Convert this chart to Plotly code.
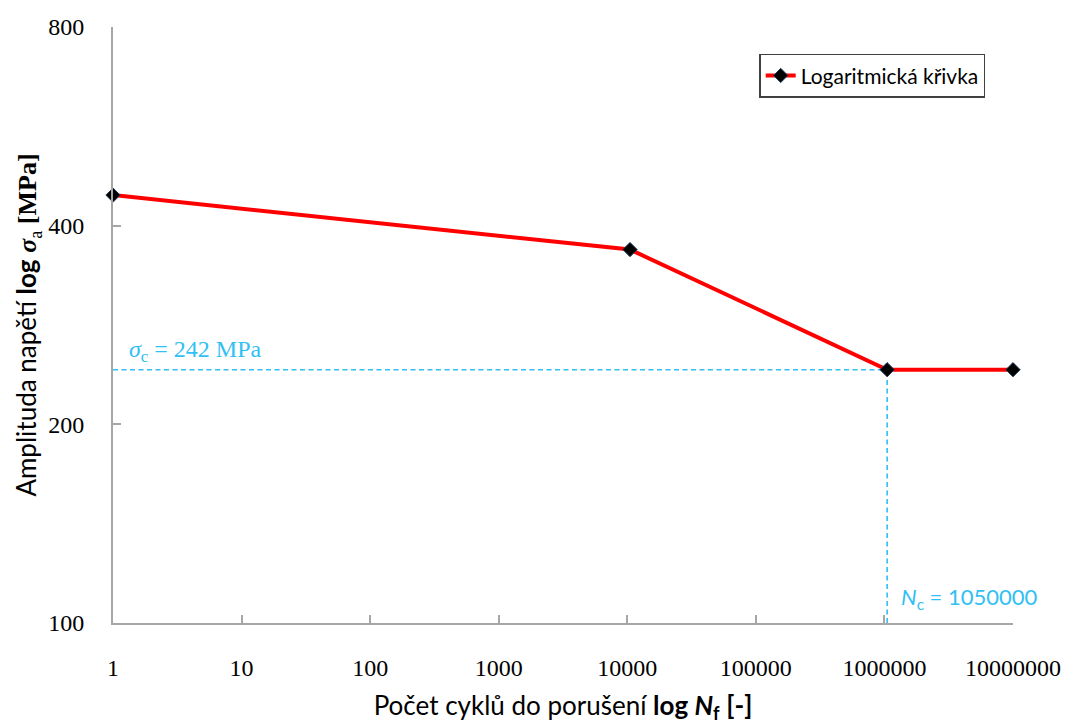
import math
import plotly.graph_objects as go

# S-N curve points (cycles to failure, stress amplitude in MPa)
cycles = [1, 10500, 1050000, 10000000]
stress = [445, 368, 242, 242]

# Fatigue limit and the knee-point cycle count
sigma_c = 242
n_c = 1050000

x_ticks = [1, 10, 100, 1000, 10000, 100000, 1000000, 10000000]
y_ticks = [100, 200, 400, 800]

SERIF = "Liberation Serif"
SANS = "Lato"
CYAN = "#30c0f4"
AXIS = "#a6a6a6"

fig = go.Figure()

# Guide lines for the fatigue limit
guide = dict(color=CYAN, width=1.6, dash="5px,3.5px")
fig.add_trace(go.Scatter(
    x=[cycles[0], n_c], y=[sigma_c, sigma_c], mode="lines",
    line=guide, showlegend=False, hoverinfo="skip"))
fig.add_trace(go.Scatter(
    x=[n_c, n_c], y=[y_ticks[0], sigma_c], mode="lines",
    line=guide, showlegend=False, hoverinfo="skip"))

fig.add_trace(go.Scatter(
    x=cycles, y=stress, mode="lines+markers", name="Logaritmická křivka",
    line=dict(color="#ff0000", width=4),
    marker=dict(symbol="diamond", size=11, color="#000000",
                line=dict(color="#1f3a5a", width=1)),
    cliponaxis=False))

# Annotation positions on log axes are given in log10 units
fig.add_annotation(
    x=0.11, y=math.log10(sigma_c), xref="x", yref="y",
    xanchor="left", yanchor="bottom", yshift=2,
    text="<i>σ</i><sub>c</sub> = 242 MPa", showarrow=False,
    font=dict(family=SERIF, size=24, color=CYAN))
fig.add_annotation(
    x=math.log10(n_c), y=math.log10(y_ticks[0]), xref="x", yref="y",
    xanchor="left", yanchor="bottom", xshift=12, yshift=8,
    text="<i>N</i><sub>c</sub> = 1050000", showarrow=False,
    font=dict(family=SANS, size=22, color=CYAN))

fig.update_layout(
    width=1068, height=724,
    margin=dict(l=113, r=55, t=27, b=101),
    paper_bgcolor="white", plot_bgcolor="white",
    legend=dict(
        x=0.718, y=0.955, xanchor="left", yanchor="top",
        bordercolor="#404040", borderwidth=1.5, bgcolor="white",
        font=dict(family=SANS, size=21, color="#000000"),
        itemwidth=30, tracegroupgap=0),
    xaxis=dict(
        type="log", range=[0, 7], automargin=False,
        tickvals=x_ticks, ticktext=[str(v) for v in x_ticks],
        ticks="inside", ticklen=8, tickcolor=AXIS, tickwidth=1.5,
        ticklabelstandoff=22,
        showline=True, linecolor=AXIS, linewidth=2, showgrid=False, zeroline=False,
        tickfont=dict(family=SERIF, size=24, color="#000000"),
        title=dict(
            text="Počet cyklů do porušení <b>log <i>N</i></b><b><sub>f</sub></b> <b>[-]</b>",
            font=dict(family=SANS, size=26, color="#000000"), standoff=22)),
    yaxis=dict(
        type="log", range=[2, 2.90309], automargin=False,
        tickvals=y_ticks, ticktext=[str(v) for v in y_ticks],
        ticks="inside", ticklen=8, tickcolor=AXIS, tickwidth=1.5,
        ticklabelstandoff=22,
        showline=True, linecolor=AXIS, linewidth=2, showgrid=False, zeroline=False,
        tickfont=dict(family=SERIF, size=24, color="#000000"),
        title=dict(
            text="Amplituda napětí <b>log</b> <span style='font-family:Liberation Serif'><b><i>σ</i></b><sub>a</sub> <b>[MPa]</b></span>",
            font=dict(family=SANS, size=26, color="#000000"), standoff=4)),
)

fig.write_html("out.html")
